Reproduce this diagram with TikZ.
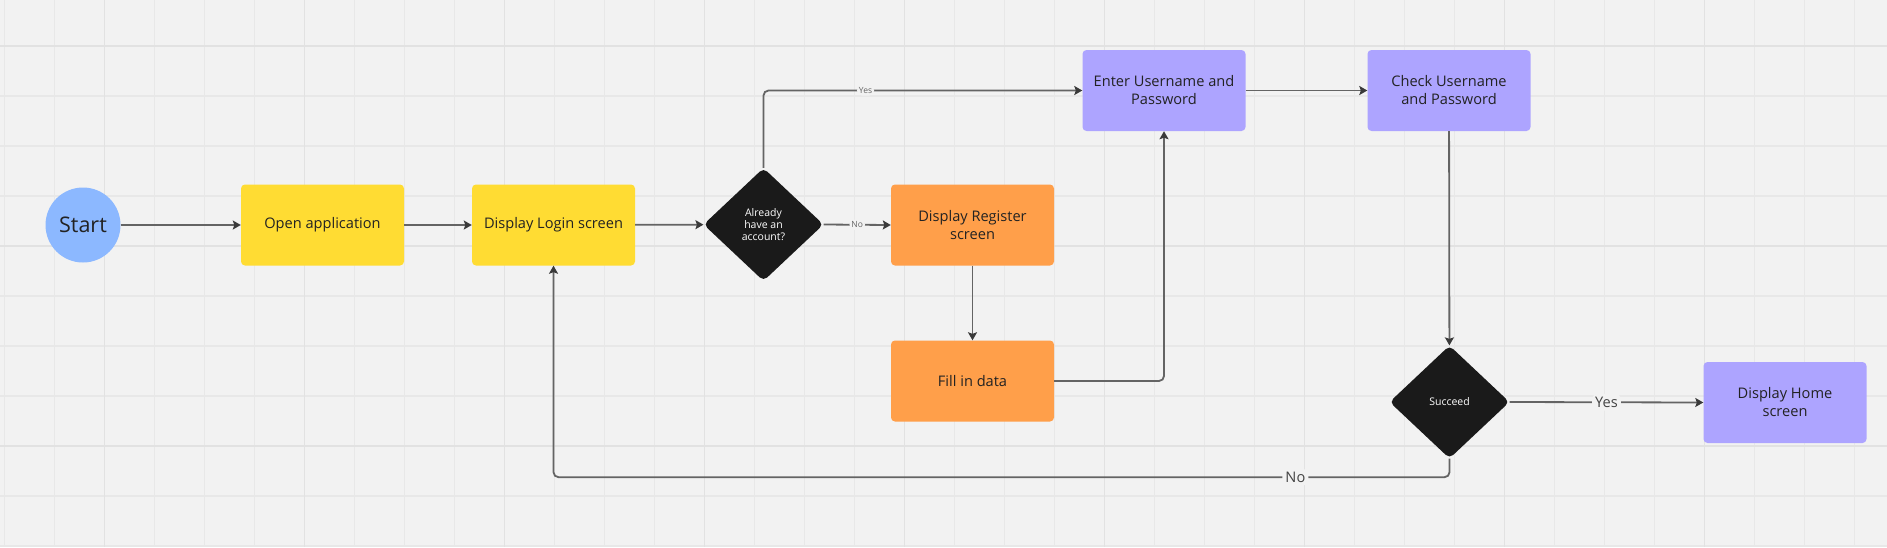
\documentclass[tikz,border=0pt]{standalone}
\usepackage{fontspec}
\setmainfont{Open Sans}
\usetikzlibrary{shapes.geometric,arrows.meta}
\definecolor{bgc}{HTML}{F2F2F2}
\definecolor{gridc}{HTML}{E8E8E8}
\definecolor{gridd}{HTML}{E2E2E2}
\definecolor{startc}{HTML}{8CB8FF}
\definecolor{yelc}{HTML}{FFDC33}
\definecolor{orac}{HTML}{FF9F4A}
\definecolor{purc}{HTML}{ADA4FF}
\definecolor{darkc}{HTML}{1A1A1A}
\definecolor{txtc}{HTML}{222222}
\definecolor{linec}{HTML}{646464}
\definecolor{tipc}{HTML}{3A3A3A}
\tikzset{
  boxnode/.style={rectangle, rounded corners=4pt, minimum width=163pt, minimum height=81pt,
    inner sep=0pt, align=center, text=txtc, font=\fontsize{14.6}{18}\selectfont},
  yelbox/.style={boxnode, fill=yelc},
  orabox/.style={boxnode, fill=orac},
  purbox/.style={boxnode, fill=purc},
  decision/.style={diamond, fill=darkc, rounded corners=5pt, minimum width=120pt, minimum height=113pt,
    inner sep=0pt, align=center, text=white, font=\fontsize{10.5}{12.3}\selectfont},
  startnode/.style={circle, fill=startc, minimum size=75pt, inner sep=0pt, text=txtc,
    font=\fontsize{21.5}{24}\selectfont},
  conn/.style={draw=linec, line width=1.8pt, rounded corners=5pt,
    -{Stealth[length=8pt,width=9pt,inset=1.5pt,color=tipc]}},
  smalllab/.style={fill=bgc, inner sep=2pt, text=linec, font=\fontsize{8.5}{10}\selectfont},
  biglab/.style={fill=bgc, inner sep=3pt, text=txtc!85, font=\fontsize{14.6}{17}\selectfont}
}
\begin{document}
\begin{tikzpicture}[x=1pt,y=-1pt]
\useasboundingbox (0,0) rectangle (1887,547);
\fill[bgc] (0,0) rectangle (1887,547);
\foreach \x in {4.5,54.5,...,1887} \draw[gridc, line width=1.1pt] (\x,0) -- (\x,547);
\foreach \y in {46,96,...,547} \draw[gridc, line width=1.1pt] (0,\y) -- (1887,\y);
\foreach \x in {104.5,304.5,...,1887} \draw[gridd, line width=1.3pt] (\x,0) -- (\x,547);
\foreach \y in {46,246,446} \draw[gridd, line width=1.3pt] (0,\y) -- (1887,\y);

\node[startnode] (start) at (83,225) {Start};
\node[yelbox] (open) at (322.5,225) {Open application};
\node[yelbox] (login) at (553.5,225) {Display Login screen};
\node[decision] (q1) at (763.5,224.5) {Already\\have an\\account?};
\node[orabox] (reg) at (972.5,225) {Display Register\\screen};
\node[orabox] (fill) at (972.5,381) {Fill in data};
\node[purbox] (enter) at (1164,90.5) {Enter Username and\\Password};
\node[purbox] (check) at (1449,90.5) {Check Username\\and Password};
\node[decision] (succ) at (1449.5,402) {Succeed};
\node[purbox] (home) at (1785,402.5) {Display Home\\screen};

\draw[conn] (start) -- (open);
\draw[conn] (open) -- (login);
\draw[conn] (login) -- (q1);
\draw[conn] (q1.north) |- node[smalllab, pos=0.66] {Yes} (enter.west);
\draw[conn] (q1.east) -- node[smalllab] {No} (reg.west);
\draw[conn] (enter) -- (check);
\draw[conn] (reg) -- (fill);
\draw[conn] (fill.east) -| (enter.south);
\draw[conn] (check) -- (succ);
\draw[conn] (succ.east) -- node[biglab] {Yes} (home.west);
\coordinate (nc) at ([yshift=-18.5pt]succ.south);
\draw[conn] (succ.south) -- (nc) -- node[biglab, pos=0.172] {No} (nc -| login.south) -- (login.south);
\end{tikzpicture}
\end{document}
